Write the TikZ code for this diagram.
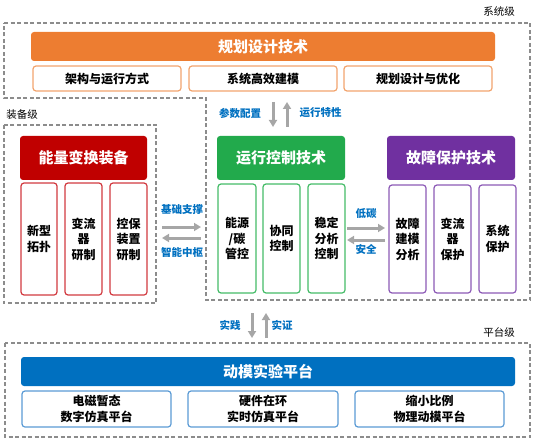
\documentclass[tikz,border=0pt]{standalone}
\usepackage{fontspec}
\setmainfont{Noto Sans CJK SC}
\usetikzlibrary{arrows.meta}
\definecolor{cOr}{HTML}{ED7D31}
\definecolor{cOrL}{HTML}{F2A46E}
\definecolor{cRd}{HTML}{C00000}
\definecolor{cRdL}{HTML}{D23A40}
\definecolor{cGr}{HTML}{22AA4C}
\definecolor{cGrL}{HTML}{45BC68}
\definecolor{cPu}{HTML}{7030A0}
\definecolor{cPuL}{HTML}{8C5AB6}
\definecolor{cBl}{HTML}{0070C0}
\definecolor{cBlL}{HTML}{5B9BD5}
\definecolor{cAr}{HTML}{A6A6A6}
\definecolor{cDs}{HTML}{8C8C8C}
\tikzset{
  hdr/.style={rounded corners=3pt, text=white, inner sep=0pt,
    font=\bfseries\fontsize{15}{18}\selectfont},
  sub/.style={rounded corners=3pt, draw, line width=1.2pt, fill=white, inner sep=0pt,
    font=\bfseries\fontsize{12}{15.5}\selectfont, align=center},
  subh/.style={sub, font=\bfseries\fontsize{12}{16.5}\selectfont},
  lvl/.style={font=\fontsize{10.5}{12}\selectfont, text=black, inner sep=0pt},
  albl/.style={font=\bfseries\fontsize{10.5}{12}\selectfont, text=cBl, inner sep=0pt},
  garrow/.style={draw=cAr, line width=3pt, -{Triangle[length=7pt,width=8pt]}},
  dsh/.style={draw=cDs, line width=1.1pt, dash pattern=on 4pt off 2.5pt},
}
\begin{document}
\begin{tikzpicture}[x=1pt,y=-1pt]
\useasboundingbox (0,0) rectangle (534,438);
% level frames
\draw[dsh] (4,23) -- (530,23) -- (530,300) -- (206,300) -- (206,98) -- (4,98) -- cycle;
\draw[dsh] (4,125) rectangle (156,303);
\draw[dsh] (5,343) rectangle (530,437);
\node[lvl] (lsys) at (499,12) {系统级};
\node[lvl] (lequ) at (22,115) {装备级};
\node[lvl] (lplat) at (499,332) {平台级};
% planning
\node[hdr, fill=cOr, minimum width=464, minimum height=29] (plan) at (263,46.5) {规划设计技术};
\node[sub, draw=cOrL, minimum width=148, minimum height=25] (p1) at (107,78.5) {架构与运行方式};
\node[sub, draw=cOrL, minimum width=148, minimum height=25] (p2) at (263,78.5) {系统高效建模};
\node[sub, draw=cOrL, minimum width=148, minimum height=25] (p3) at (418,78.5) {规划设计与优化};
% equipment
\node[hdr, fill=cRd, minimum width=127, minimum height=44] (equ) at (83.5,158) {能量变换装备};
\node[sub, draw=cRdL, minimum width=36, minimum height=112] (e1) at (39,239) {新型\\拓扑};
\node[sub, draw=cRdL, minimum width=37, minimum height=112] (e2) at (83.5,239) {变流\\器\\研制};
\node[sub, draw=cRdL, minimum width=37, minimum height=112] (e3) at (128.5,239) {控保\\装置\\研制};
% operation control
\node[hdr, fill=cGr, minimum width=128, minimum height=44] (ctl) at (281,158) {运行控制技术};
\node[sub, draw=cGrL, minimum width=38, minimum height=109] (c1) at (237,238.5) {能源\\/碳\\管控};
\node[sub, draw=cGrL, minimum width=37, minimum height=109] (c2) at (281.5,238.5) {协同\\控制};
\node[sub, draw=cGrL, minimum width=37, minimum height=109] (c3) at (326.5,238.5) {稳定\\分析\\控制};
% fault protection
\node[hdr, fill=cPu, minimum width=128, minimum height=44] (flt) at (451,158) {故障保护技术};
\node[sub, draw=cPuL, minimum width=37, minimum height=108] (f1) at (407.5,239) {故障\\建模\\分析};
\node[sub, draw=cPuL, minimum width=37, minimum height=108] (f2) at (452.5,239) {变流\\器\\保护};
\node[sub, draw=cPuL, minimum width=37, minimum height=108] (f3) at (497.5,239) {系统\\保护};
% platform
\node[hdr, fill=cBl, minimum width=494, minimum height=29] (plat) at (268,371.5) {动模实验平台};
\node[subh, draw=cBlL, minimum width=149, minimum height=36] (b1) at (96.5,409) {电磁暂态\\数字仿真平台};
\node[subh, draw=cBlL, minimum width=150, minimum height=36] (b2) at (263,409) {硬件在环\\实时仿真平台};
\node[subh, draw=cBlL, minimum width=149, minimum height=36] (b3) at (429.5,409) {缩小比例\\物理动模平台};
% arrow end points
\coordinate (ta1) at (273,102); \coordinate (ta2) at (273,127);
\coordinate (tb1) at (287,127); \coordinate (tb2) at (287,102);
\coordinate (la1) at (162,227); \coordinate (la2) at (201,227);
\coordinate (lb1) at (201,238); \coordinate (lb2) at (162,238);
\coordinate (ra1) at (347,228); \coordinate (ra2) at (385,228);
\coordinate (rb1) at (385,240); \coordinate (rb2) at (347,240);
\coordinate (ba1) at (252,313); \coordinate (ba2) at (252,338);
\coordinate (bb1) at (266,338); \coordinate (bb2) at (266,313);
\draw[garrow] (ta1) -- (ta2);
\draw[garrow] (tb1) -- (tb2);
\draw[garrow] (la1) -- (la2);
\draw[garrow] (lb1) -- (lb2);
\draw[garrow] (ra1) -- (ra2);
\draw[garrow] (rb1) -- (rb2);
\draw[garrow] (ba1) -- (ba2);
\draw[garrow] (bb1) -- (bb2);
% arrow labels
\node[albl] (t1) at (240,113) {参数配置};
\node[albl] (t2) at (320.5,113) {运行特性};
\node[albl] (l1) at (182,210) {基础支撑};
\node[albl] (l2) at (182,252) {智能中枢};
\node[albl] (r1) at (366,214) {低碳};
\node[albl] (r2) at (366,250) {安全};
\node[albl] (bl1) at (230,325) {实践};
\node[albl] (bl2) at (282,325) {实证};
\end{tikzpicture}
\end{document}
